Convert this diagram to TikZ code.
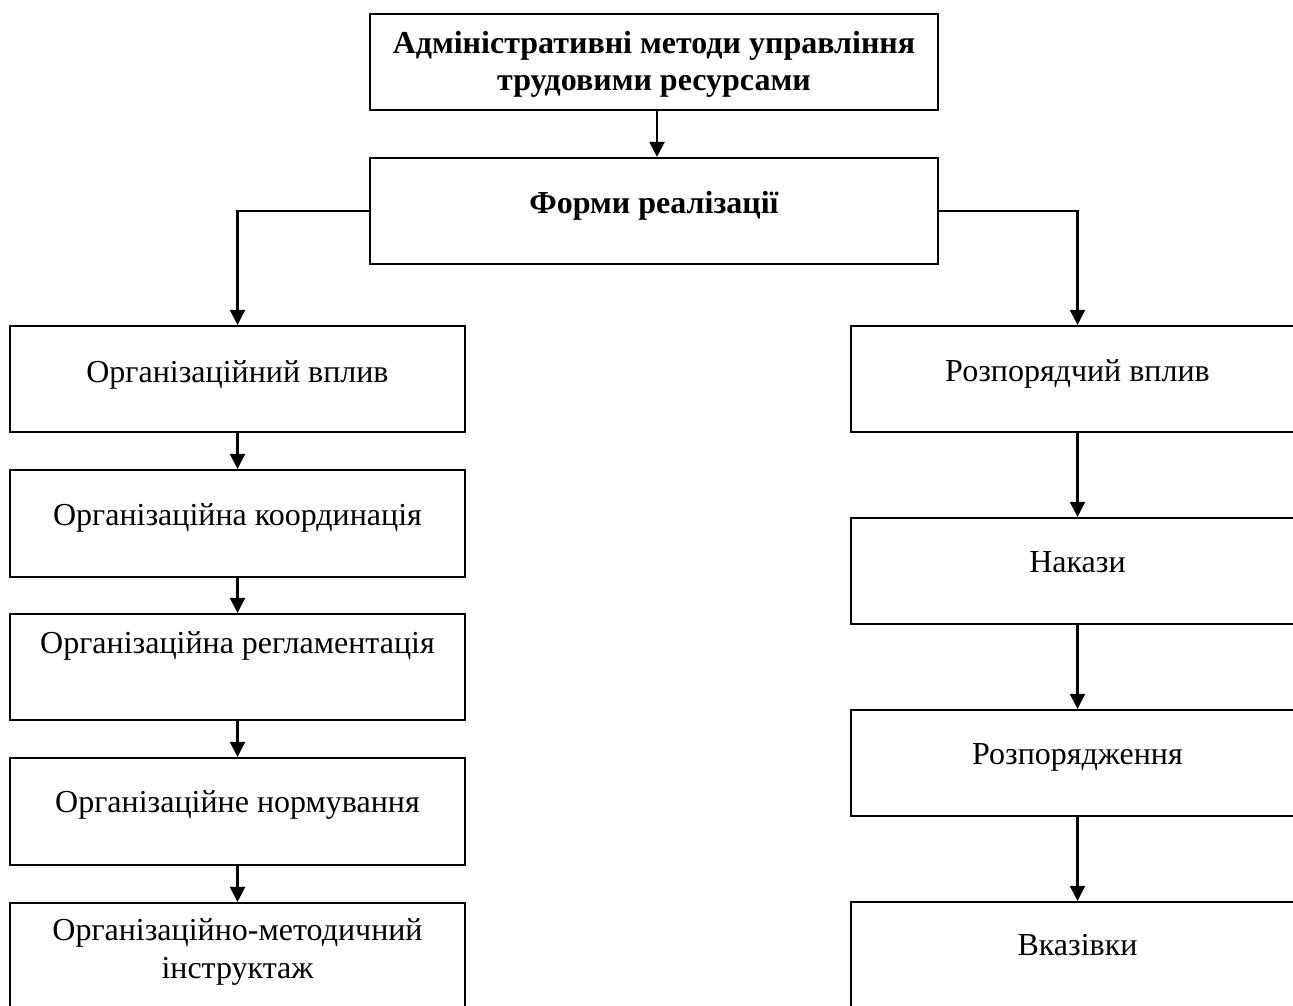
\documentclass[tikz,border=0pt]{standalone}
\usepackage{fontspec}
\setmainfont{Liberation Serif}
\usetikzlibrary{arrows.meta}
\begin{document}
\begin{tikzpicture}[x=1pt,y=-1pt,
  box/.style={draw=black,line width=2.2pt,rectangle,inner sep=0pt,fill=white},
  txt/.style={font=\fontsize{32}{38}\selectfont,inner sep=0pt,anchor=base,align=center},
  btxt/.style={txt,font=\fontsize{32}{38}\selectfont\bfseries},
  arr/.style={line width=2.2pt,-{Triangle[width=15pt,length=15pt]}}]
\useasboundingbox (0,0) rectangle (1293,1005);
\clip (0,0) rectangle (1293,1005);
\fill[white] (0,0) rectangle (1293,1005);
% top boxes
\node[box,minimum width=568pt,minimum height=96pt] (top) at (654,62) {};
\node[box,minimum width=568pt,minimum height=106pt] (form) at (654,211) {};
% left column
\node[box,minimum width=455pt,minimum height=106pt] (L1) at (237.5,379) {};
\node[box,minimum width=455pt,minimum height=107pt] (L2) at (237.5,523.5) {};
\node[box,minimum width=455pt,minimum height=106pt] (L3) at (237.5,667) {};
\node[box,minimum width=455pt,minimum height=107pt] (L4) at (237.5,811.5) {};
\node[box,minimum width=455pt,minimum height=110pt] (L5) at (237.5,958) {};
% right column
\node[box,minimum width=453pt,minimum height=106pt] (R1) at (1077.5,379) {};
\node[box,minimum width=453pt,minimum height=106pt] (R2) at (1077.5,571) {};
\node[box,minimum width=453pt,minimum height=106pt] (R3) at (1077.5,763) {};
\node[box,minimum width=453pt,minimum height=110pt] (R4) at (1077.5,957) {};
% texts
\node[btxt] (ttop1) at (654,53) {Адміністративні методи управління};
\node[btxt] (ttop2) at (654,90) {трудовими ресурсами};
\node[btxt] (tform) at (654,213) {Форми реалізації};
\node[txt] (tL1) at (237.5,382) {Організаційний вплив};
\node[txt] (tL2) at (237.5,525) {Організаційна координація};
\node[txt] (tL3) at (237.5,653) {Організаційна регламентація};
\node[txt] (tL4) at (237.5,812) {Організаційне нормування};
\node[txt] (tL5a) at (237.5,940) {Організаційно-методичний};
\node[txt] (tL5b) at (237.5,978) {інструктаж};
\node[txt] (tR1) at (1077.5,381) {Розпорядчий вплив};
\node[txt] (tR2) at (1077.5,572) {Накази};
\node[txt] (tR3) at (1077.5,764) {Розпорядження};
\node[txt] (tR4) at (1077.5,955) {Вказівки};
% connectors
\draw[arr] ([xshift=3pt]top.south) -- ([xshift=3pt]form.north);
\draw[arr] (form.west) -| (L1.north);
\draw[arr] (form.east) -| (R1.north);
\draw[arr] (L1.south) -- (L2.north);
\draw[arr] (L2.south) -- (L3.north);
\draw[arr] (L3.south) -- (L4.north);
\draw[arr] (L4.south) -- (L5.north);
\draw[arr] (R1.south) -- (R2.north);
\draw[arr] (R2.south) -- (R3.north);
\draw[arr] (R3.south) -- (R4.north);
\end{tikzpicture}
\end{document}
